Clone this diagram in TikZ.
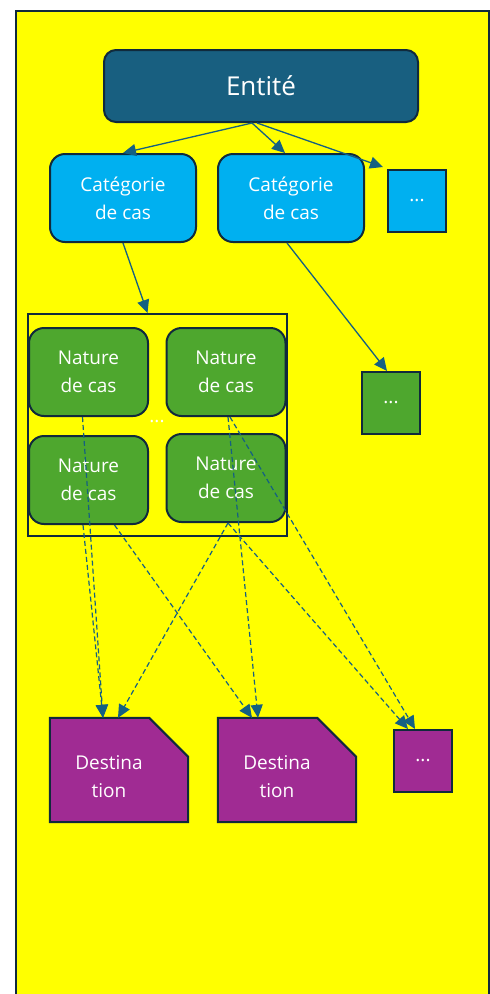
\documentclass[tikz,border=0pt]{standalone}
\usepackage{fontspec}
\setmainfont{Open Sans}
\usetikzlibrary{arrows.meta}
\definecolor{bgyellow}{HTML}{FFFF00}
\definecolor{edge}{HTML}{102A3C}
\definecolor{entfill}{HTML}{185F80}
\definecolor{catfill}{HTML}{00B0F0}
\definecolor{natfill}{HTML}{4EA72E}
\definecolor{destfill}{HTML}{A02B93}
\definecolor{arrowc}{HTML}{156082}
\tikzset{
  basebox/.style={draw=edge, line width=2pt, text=white, align=center, inner sep=0pt,
    font=\fontsize{19}{28}\selectfont},
  entbox/.style={basebox, fill=entfill, rounded corners=12pt, minimum width=314pt, minimum height=72pt,
    font=\fontsize{26}{30}\selectfont},
  catbox/.style={basebox, fill=catfill, rounded corners=15pt, minimum width=146pt, minimum height=88pt},
  natbox/.style={basebox, fill=natfill, rounded corners=15pt, minimum width=119pt, minimum height=88pt},
  dotbox/.style={basebox, minimum width=58pt, minimum height=62pt},
  destframe/.style={inner sep=0pt, minimum width=138pt, minimum height=104pt},
  destshape/.style={draw=edge, line width=2pt, fill=destfill, line join=miter},
  desttext/.style={text=white, align=center, inner sep=0pt, font=\fontsize{19}{28}\selectfont},
  groupbox/.style={draw=edge, line width=2pt, minimum width=259pt, minimum height=222pt, inner sep=0pt},
  solidarrow/.style={draw=arrowc, line width=1.3pt, -{Triangle[length=13pt,width=12pt]}},
  dasharrow/.style={draw=arrowc, line width=1.2pt, dash pattern=on 5pt off 3pt, -{Triangle[length=13pt,width=12pt]}},
  dotstext/.style={text=white, font=\fontsize{19}{22}\selectfont, inner sep=0pt}
}
\begin{document}
\begin{tikzpicture}[x=1pt,y=-1pt]
\useasboundingbox (0,0) rectangle (490,994);
\draw[draw=edge, line width=2pt, fill=bgyellow] (15.5,10.5) rectangle (488.5,1010);

\node[entbox] (ent) at (261,86) {Entité};
\node[catbox] (cat1) at (123,198) {Catégorie\\de cas};
\node[catbox] (cat2) at (291,198) {Catégorie\\de cas};
\node[dotbox, fill=catfill] (catdots) at (417,201) {...};

\node[groupbox] (cont) at (157.5,425) {};
\node[natbox] (n1) at (88.5,372) {Nature\\de cas};
\node[natbox] (n2) at (226,372) {Nature\\de cas};
\node[natbox] (n3) at (88.5,480) {Nature\\de cas};
\node[natbox] (n4) at (226,478) {Nature\\de cas};
\node[dotstext] (ndots) at (157,422) {...};
\node[dotbox, fill=natfill] (natdots) at (391,403) {...};

\node[destframe] (d1) at (119,770) {};
\draw[destshape] (d1.south west) -- (d1.north west) -- ([xshift=-39pt]d1.north east)
  -- ([yshift=-39pt]d1.north east) -- (d1.south east) -- cycle;
\node[desttext] (d1t) at ([xshift=-10pt,yshift=-7pt]d1.center) {Destina\\tion};
\node[destframe] (d2) at (287,770) {};
\draw[destshape] (d2.south west) -- (d2.north west) -- ([xshift=-39pt]d2.north east)
  -- ([yshift=-39pt]d2.north east) -- (d2.south east) -- cycle;
\node[desttext] (d2t) at ([xshift=-10pt,yshift=-7pt]d2.center) {Destina\\tion};
\node[dotbox, fill=destfill] (ddots) at (423,761) {...};

\draw[solidarrow] ([xshift=-9pt]ent.south) -- (cat1.north);
\draw[solidarrow] ([xshift=-9pt]ent.south) -- ([xshift=-6pt]cat2.north);
\draw[solidarrow] ([xshift=-4pt]ent.south) -- ([xshift=-4pt,yshift=2pt]catdots.north west);
\draw[solidarrow] (cat1.south) -- ([xshift=-10pt]cont.north);
\draw[solidarrow] ([xshift=-4pt]cat2.south) -- ([xshift=-4pt]natdots.north);

\draw[dasharrow] ([xshift=-6pt]n1.south) -- ([xshift=-16pt]d1.north);
\draw[dasharrow] ([xshift=-5.5pt]n3.south) -- ([xshift=-16pt]d1.north);
\draw[dasharrow] ([xshift=2pt]n4.south) -- ([xshift=-1pt]d1.north);
\draw[dasharrow] ([xshift=26pt]n3.south) -- ([xshift=-35pt]d2.north);
\draw[dasharrow] ([xshift=2pt]n2.south) -- ([xshift=-29pt]d2.north);
\draw[dasharrow] ([xshift=2pt]n4.south) -- ([xshift=-15pt]ddots.north);
\draw[dasharrow] ([xshift=4pt]n2.south) -- ([xshift=-8pt]ddots.north);
\end{tikzpicture}
\end{document}
